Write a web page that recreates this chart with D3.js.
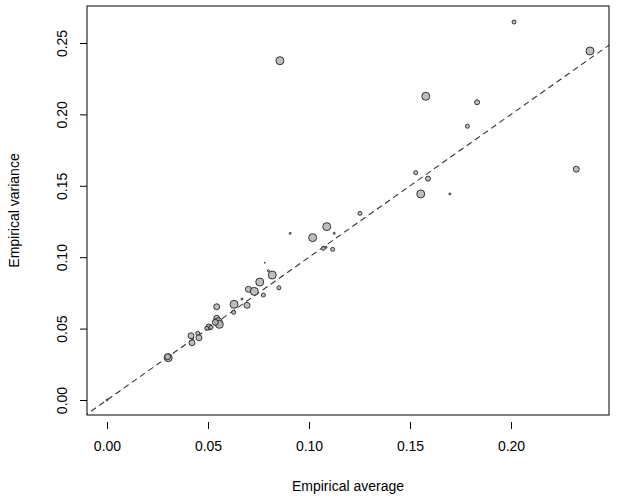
<!DOCTYPE html>
<html><head><meta charset="utf-8">
<script src="https://cdn.jsdelivr.net/npm/d3@7"></script>
<style>body{margin:0;background:#fff}text{font-family:"Liberation Sans",Arial,sans-serif}</style>
</head><body><div id="chart"></div>
<script>
// data
const avg = [0.2391,0.2015,0.0856,0.1578,0.1832,0.1784,0.2323,0.1589,0.1528,0.1553,0.1697,
  0.1088,0.1018,0.0907,0.1125,0.1071,0.1084,0.1117,0.1252,0.0818,0.0756,0.0799,0.0781,0.0851,
  0.0700,0.0729,0.0774,0.0629,0.0693,0.0627,0.0668,0.0543,0.0543,0.0550,0.0556,0.0536,0.0505,
  0.0494,0.0515,0.0449,0.0416,0.0455,0.0421,0.0303,0.0300,0.0000];
const vari = [0.2444,0.2647,0.2376,0.2127,0.2085,0.1917,0.1616,0.1550,0.1592,0.1443,0.1443,
  0.1214,0.1137,0.1167,0.1167,0.1062,0.1069,0.1055,0.1307,0.0875,0.0826,0.0905,0.0961,0.0786,
  0.0775,0.0761,0.0735,0.0670,0.0663,0.0614,0.0707,0.0653,0.0572,0.0548,0.0530,0.0544,0.0511,
  0.0502,0.0509,0.0467,0.0450,0.0436,0.0401,0.0296,0.0303,0.0000];
const wt = [4,2,4,4,2.5,2,3,2.5,2,4,1,
  4,4,1,1,2,1,2,2,4,4,1,0.5,2,
  3,4,2,4,3,2,1,3,3,4,4,3,3,
  2,2,2,3,3,3,4,3,1];
const xTicks = [0, 0.05, 0.10, 0.15, 0.20];
const yTicks = [0, 0.05, 0.10, 0.15, 0.20, 0.25];

const W = 618, H = 501;
const m = {left: 87, right: 9, top: 6, bottom: 86};
const svg = d3.select("#chart").append("svg").attr("width", W).attr("height", H);

const x = d3.scaleLinear().domain([-0.0099, 0.2485]).range([m.left, W - m.right]);
const y = d3.scaleLinear().domain([-0.0105, 0.2759]).range([H - m.bottom, m.top]);

svg.append("defs").append("clipPath").attr("id", "clip")
  .append("rect").attr("x", m.left).attr("y", m.top)
  .attr("width", W - m.right - m.left).attr("height", H - m.bottom - m.top);

// identity line
svg.append("line")
  .attr("clip-path", "url(#clip)")
  .attr("x1", x(-0.02)).attr("y1", y(-0.02))
  .attr("x2", x(0.3)).attr("y2", y(0.3))
  .attr("stroke", "#333").attr("stroke-width", 1.1).attr("stroke-dasharray", "6,4");

svg.append("g").selectAll("circle").data(avg).enter().append("circle")
  .attr("cx", (d, i) => x(d))
  .attr("cy", (d, i) => y(vari[i]))
  .attr("r", (d, i) => wt[i])
  .attr("fill", "#b3b3b3").attr("fill-opacity", 0.85)
  .attr("stroke", "#222").attr("stroke-width", 0.9);

// box
svg.append("rect").attr("x", m.left).attr("y", m.top)
  .attr("width", W - m.right - m.left).attr("height", H - m.bottom - m.top)
  .attr("fill", "none").attr("stroke", "#000");

const xa = svg.append("g").attr("transform", "translate(0," + (H - m.bottom + 7) + ")")
  .call(d3.axisBottom(x).tickValues(xTicks).tickFormat(d3.format(".2f")).tickSize(7).tickPadding(12));
const ya = svg.append("g").attr("transform", "translate(" + (m.left - 7) + ",0)")
  .call(d3.axisLeft(y).tickValues(yTicks).tickFormat(d3.format(".2f")).tickSize(7));
[xa, ya].forEach(a => {
  a.select(".domain").remove();
  a.selectAll("text").attr("font-size", 14).attr("fill", "#000")
    .style("font-family", "Liberation Sans, Arial, sans-serif");
});
ya.selectAll(".tick line").attr("x2", 7);
ya.selectAll("text").attr("text-anchor", "middle")
  .attr("x", 0).attr("y", 0).attr("dy", 0)
  .attr("transform", "translate(-13,0) rotate(-90)");

svg.append("text").attr("x", (m.left + W - m.right) / 2).attr("y", 491)
  .attr("text-anchor", "middle").attr("font-size", 14).text("Empirical average");
svg.append("text").attr("transform", "translate(19," + (m.top + H - m.bottom) / 2 + ") rotate(-90)")
  .attr("text-anchor", "middle").attr("font-size", 14).text("Empirical variance");
</script></body></html>
